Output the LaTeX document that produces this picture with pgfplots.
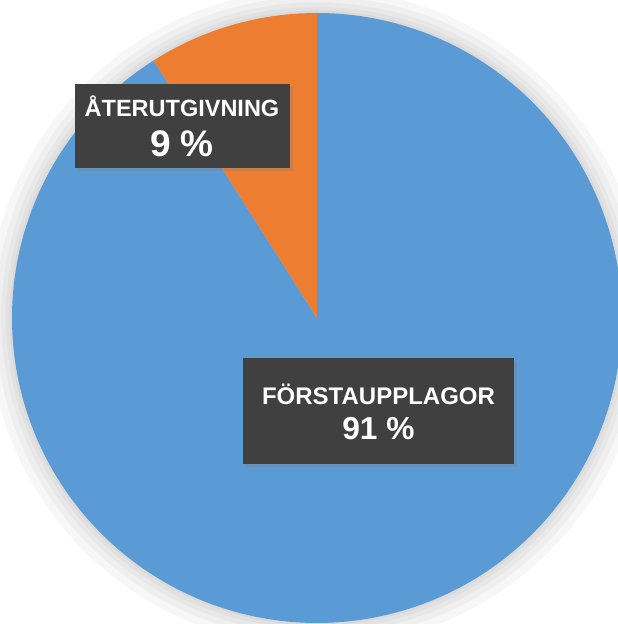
\documentclass[border=0pt]{standalone}
\usepackage{pgfplots}
\pgfplotsset{compat=1.18}
\usepackage{fontspec}
\setmainfont{Liberation Sans}
\usetikzlibrary{shadows}

\definecolor{pieblue}{HTML}{5B9BD5}
\definecolor{pieorange}{HTML}{ED7D31}
\definecolor{labelbg}{HTML}{404040}

% andelar i procent
\def\shareAter{9}
\def\shareForst{91}

\tikzset{
  lblbox/.style={fill=labelbg, inner sep=0pt,
    drop shadow={shadow xshift=3bp, shadow yshift=-3bp, opacity=0.3}},
  lbltxt/.style={text=white, anchor=base, inner sep=0pt},
}

\begin{document}
\begin{tikzpicture}
\pgfmathsetmacro{\aStart}{90}
\pgfmathsetmacro{\aMid}{90+3.6*\shareAter}
\pgfmathsetmacro{\aEnd}{90+3.6*(\shareAter+\shareForst)}
\begin{axis}[
  scale only axis,
  width=618bp, height=624bp,
  xmin=-1.0393, xmax=0.9869,
  ymin=-1.0033, ymax=1.0426,
  hide axis,
  clip=true,
]
% mjuk skugga runt tårtan
\addplot[draw=none, fill=black, fill opacity=0.03, domain=0:360, samples=120]
  ({1.08*cos(x)},{1.08*sin(x)}) -- cycle;
\addplot[draw=none, fill=black, fill opacity=0.03, domain=0:360, samples=120]
  ({1.055*cos(x)},{1.055*sin(x)}) -- cycle;
\addplot[draw=none, fill=black, fill opacity=0.03, domain=0:360, samples=120]
  ({1.035*cos(x)},{1.035*sin(x)}) -- cycle;
\addplot[draw=none, fill=black, fill opacity=0.03, domain=0:360, samples=120]
  ({1.02*cos(x)},{1.02*sin(x)}) -- cycle;
\addplot[draw=none, fill=black, fill opacity=0.03, domain=0:360, samples=120]
  ({1.008*cos(x)},{1.008*sin(x)}) -- cycle;

\addplot[draw=none, fill=pieblue, domain=\aMid:\aEnd, samples=240]
  ({cos(x)},{sin(x)}) -- (axis cs:0,0) -- cycle;
\addplot[draw=none, fill=pieorange, domain=\aStart:\aMid, samples=40]
  ({cos(x)},{sin(x)}) -- (axis cs:0,0) -- cycle;

% etiketter
\node[lblbox, minimum width=215bp, minimum height=84bp] at (axis cs:-0.441,0.6295) {};
\node[lbltxt, font=\bfseries\fontsize{23.5bp}{26bp}\selectfont] at (axis cs:-0.4426,0.659) {ÅTERUTGIVNING};
\node[lbltxt, font=\bfseries\fontsize{37bp}{40bp}\selectfont] at (axis cs:-0.4426,0.5311) {9 \%};

\node[lblbox, minimum width=271bp, minimum height=106bp] at (axis cs:0.2016,-0.3049) {};
\node[lbltxt, font=\bfseries\fontsize{24bp}{27bp}\selectfont] at (axis cs:0.2016,-0.282) {FÖRSTAUPPLAGOR};
\node[lbltxt, font=\bfseries\fontsize{31.7bp}{34bp}\selectfont] at (axis cs:0.2016,-0.4) {91 \%};
\end{axis}
\end{tikzpicture}
\end{document}
